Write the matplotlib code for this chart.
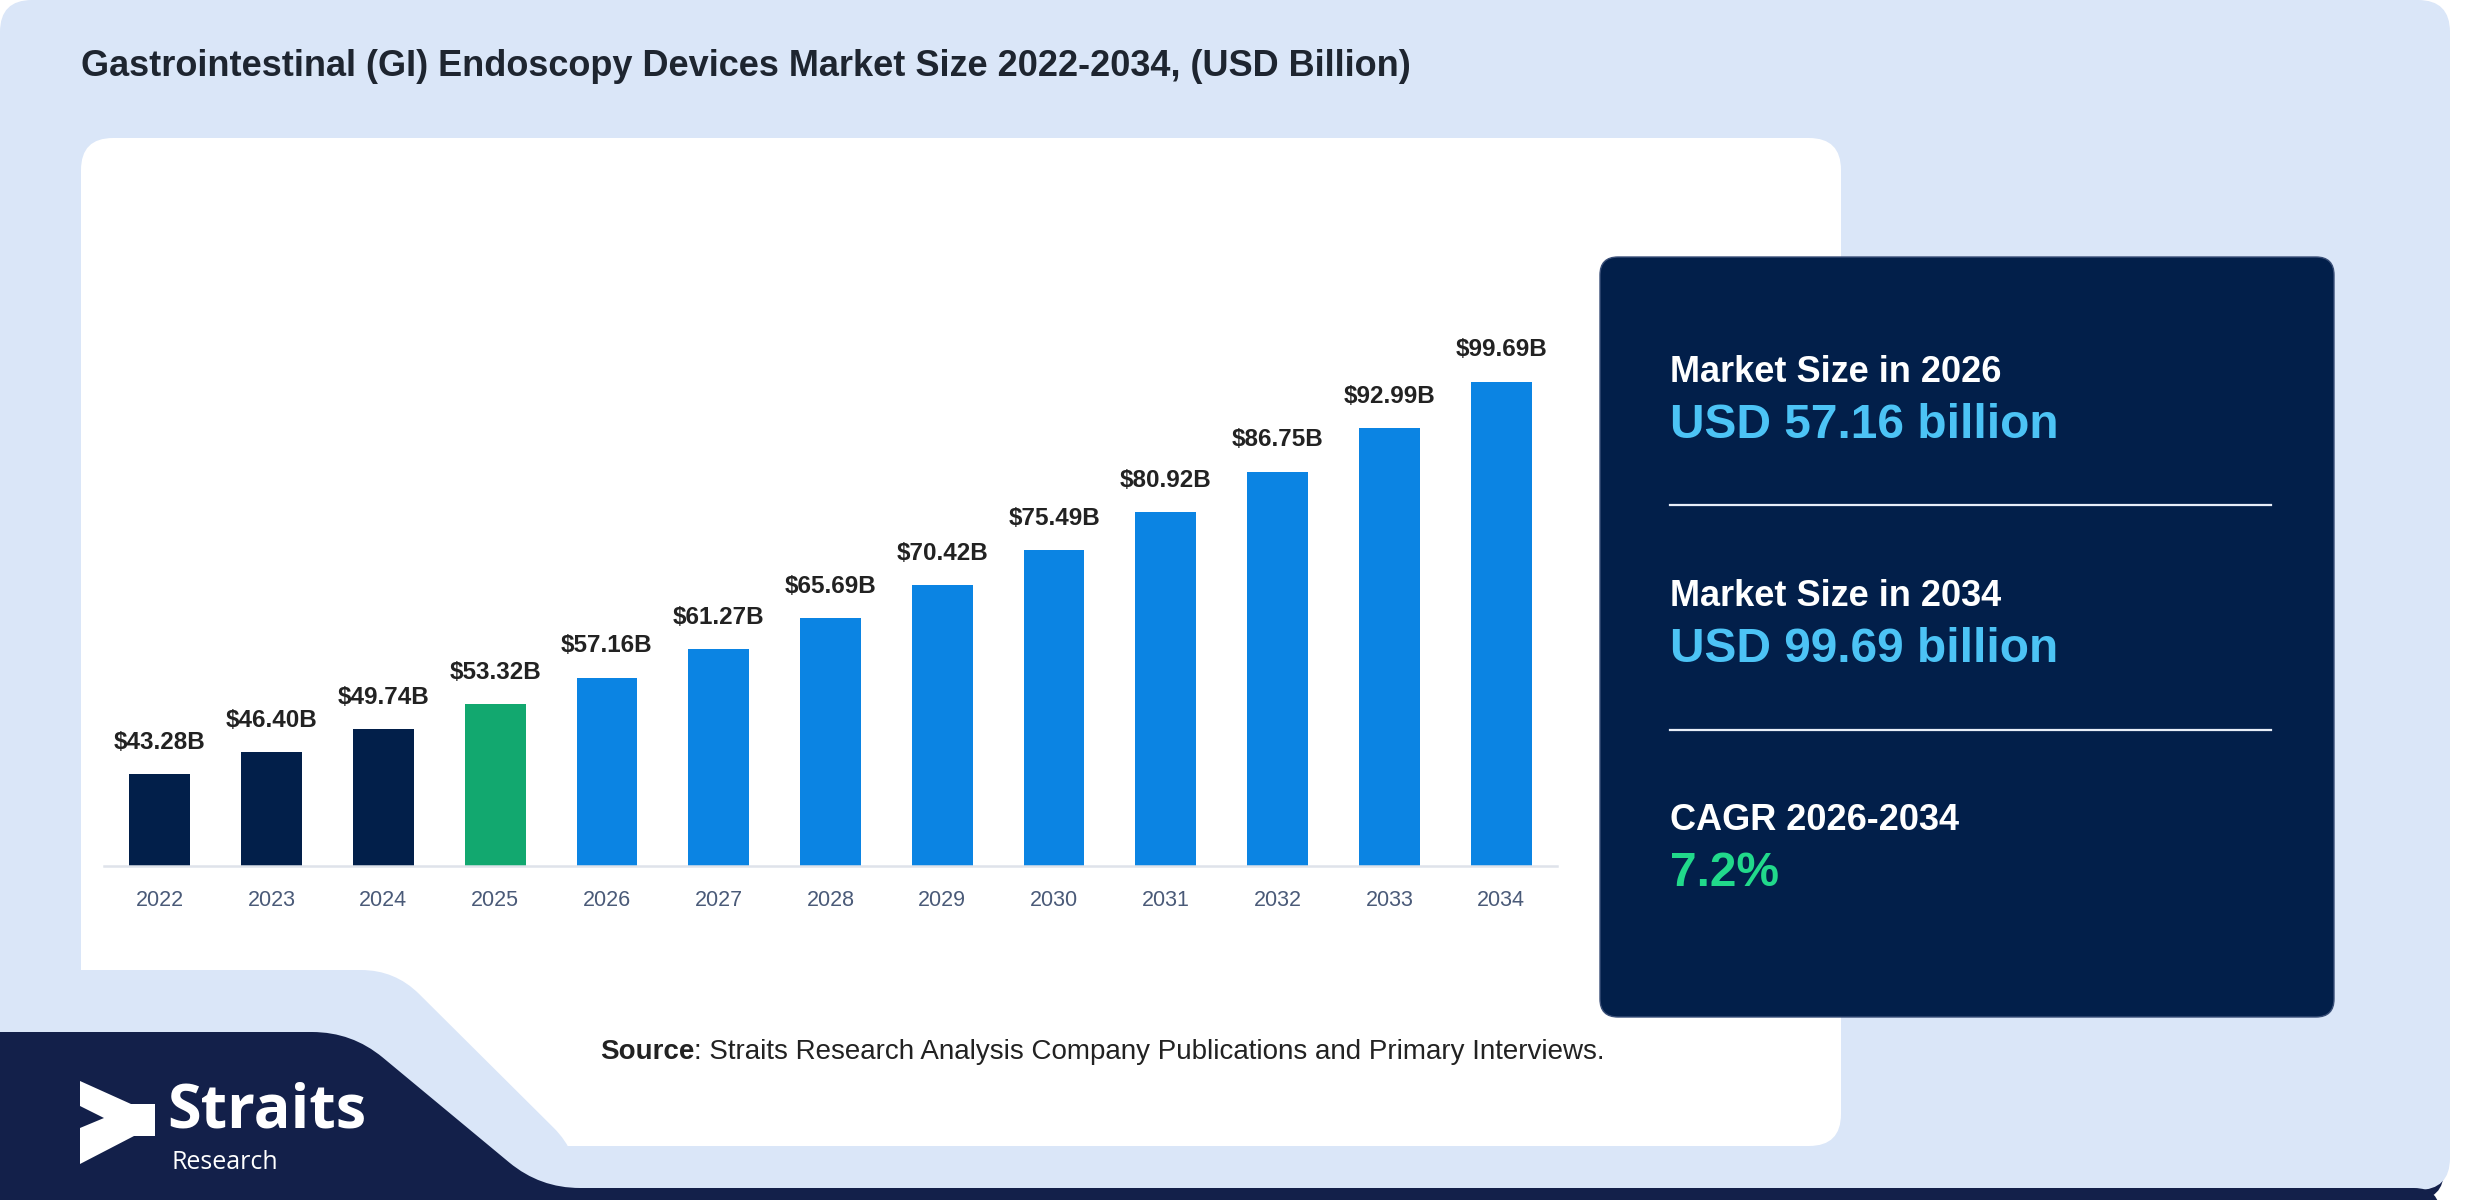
import matplotlib
matplotlib.use("Agg")
import matplotlib.pyplot as plt
from matplotlib.path import Path
from matplotlib.patches import PathPatch, FancyBboxPatch, Polygon
import numpy as np

plt.rcParams['font.family'] = ['Liberation Sans', 'DejaVu Sans']

# data
years = ['2022', '2023', '2024', '2025', '2026', '2027', '2028',
         '2029', '2030', '2031', '2032', '2033', '2034']
values = [43.28, 46.40, 49.74, 53.32, 57.16, 61.27, 65.69,
          70.42, 75.49, 80.92, 86.75, 92.99, 99.69]
bar_colors = ['#021f4a'] * 3 + ['#12a86f'] + ['#0b84e3'] * 9

title = 'Gastrointestinal (GI) Endoscopy Devices Market Size 2022-2034, (USD Billion)'
stat_labels = ['Market Size in 2026', 'Market Size in 2034', 'CAGR 2026-2034']
stat_values = ['USD 57.16 billion', 'USD 99.69 billion', '7.2%']
stat_colors = ['#4cc3f5', '#4cc3f5', '#21d98b']

W, H = 2480, 1200
BG = '#dae6f8'
NAVY = '#13204a'
PANEL = '#021f4a'


def rounded_path(pts, r):
    """closed polygon with rounded corners"""
    pts = [np.array(p, dtype=float) for p in pts]
    n = len(pts)
    verts, codes = [], []
    for i in range(n):
        p0, p1, p2 = pts[i - 1], pts[i], pts[(i + 1) % n]
        l1 = np.linalg.norm(p0 - p1)
        l2 = np.linalg.norm(p2 - p1)
        rr = min(r, l1 / 2, l2 / 2)
        a = p1 + (p0 - p1) / l1 * rr
        b = p1 + (p2 - p1) / l2 * rr
        verts.append(a)
        codes.append(Path.MOVETO if i == 0 else Path.LINETO)
        verts += [p1, b]
        codes += [Path.CURVE3, Path.CURVE3]
    verts.append(verts[0])
    codes.append(Path.CLOSEPOLY)
    return Path(verts, codes)


fig = plt.figure(figsize=(W / 100, H / 100), dpi=100)
fig.patch.set_facecolor('white')

bg = fig.add_axes([0, 0, 1, 1])
bg.set_xlim(0, W)
bg.set_ylim(H, 0)
bg.axis('off')

# outer card + navy strip under it
bg.add_patch(PathPatch(rounded_path([(0, 20), (2444, 20), (2444, 1200), (0, 1200)], 30),
                       fc=NAVY, ec='none'))
bg.add_patch(PathPatch(rounded_path([(0, 0), (2450, 0), (2450, 1190), (0, 1190)], 32),
                       fc=BG, ec='none'))

# white chart panel with bottom-left cut
bg.add_patch(PathPatch(rounded_path([(81, 138), (1841, 138), (1841, 1146), (81, 1146)], 32),
                       fc='white', ec='none'))
bg.add_patch(PathPatch(rounded_path([(40, 970), (395, 970), (578, 1152), (578, 1240), (40, 1240)], 34),
                       fc=BG, ec='none'))

# navy logo block
bg.add_patch(PathPatch(rounded_path([(-40, 1032), (352, 1032), (540, 1188), (2440, 1188),
                                     (2440, 1240), (-40, 1240)], 40),
                       fc=NAVY, ec='none'))

# logo
arrow = [(80, 1081), (131, 1104), (155, 1104), (155, 1136), (134, 1136), (80, 1164),
         (80, 1128), (104, 1118), (80, 1106)]
bg.add_patch(Polygon(arrow, closed=True, fc='white', ec='none'))
bg.text(167, 1127, 'Straits', color='white', fontsize=44, fontweight='bold',
        family=['Open Sans', 'DejaVu Sans'], va='baseline', ha='left')
bg.text(171, 1169, 'Research', color='white', fontsize=18,
        family=['Open Sans', 'DejaVu Sans'], va='baseline', ha='left')

# title
bg.text(81, 67, title, fontsize=26, fontweight='bold', color='#1e2530', va='center', ha='left')

# source
src = bg.text(600, 1052, 'Source', fontsize=20, fontweight='bold', color='#222222',
              va='center', ha='left')
bg.annotate(': Straits Research Analysis Company Publications and Primary Interviews.',
            xy=(1, 0.5), xycoords=src, fontsize=20, color='#222222', va='center', ha='left')

# right stats panel
bg.add_patch(FancyBboxPatch((1600, 257), 734, 760, boxstyle='round,pad=0,rounding_size=18',
                            fc=PANEL, ec='#3a4f78', lw=1))
label_y = [372, 597, 820]
for i in range(3):
    bg.text(1670, label_y[i], stat_labels[i], fontsize=26, fontweight='bold', color='white',
            va='center', ha='left')
    bg.text(1670, label_y[i] + 53, stat_values[i], fontsize=34.5, fontweight='bold',
            color=stat_colors[i], va='center', ha='left')
for y in [505, 730]:
    bg.plot([1670, 2271], [y, y], color='#e8eef8', lw=1.6)

# bar chart
ymin, scale = 30.04, 6.95
ax_left, ax_right, ax_bottom, ax_top = 104, 1557, 866, 200
ax = fig.add_axes([ax_left / W, 1 - ax_bottom / H, (ax_right - ax_left) / W, (ax_bottom - ax_top) / H])
ax.patch.set_alpha(0)
x = np.arange(len(years))
ax.bar(x, values, width=0.545, color=bar_colors, bottom=0)
ax.set_xlim(-0.5, 12.5)
ax.set_ylim(ymin, ymin + (ax_bottom - ax_top) / scale)
for s in ['top', 'right', 'left']:
    ax.spines[s].set_visible(False)
ax.spines['bottom'].set_color('#dfe3ea')
ax.spines['bottom'].set_linewidth(1.8)
ax.set_yticks([])
ax.set_xticks(x)
ax.set_xticklabels(years, fontsize=15.5, color='#4a5a78')
ax.tick_params(axis='x', length=0, pad=17)
for i, v in enumerate(values):
    ax.annotate(f'${v:.2f}B', (i, v), xytext=(0, 23), textcoords='offset points',
                ha='center', va='center', fontsize=17.5, fontweight='bold', color='#222222')

fig.savefig('out.png', dpi=100)
